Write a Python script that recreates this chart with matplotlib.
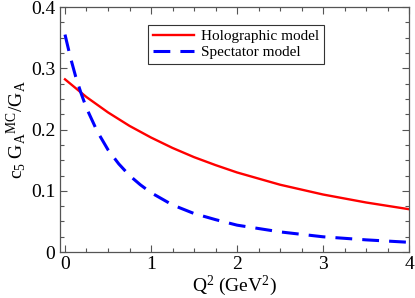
""" c5 axial form factor ratio vs Q^2
    Holographic model vs spectator model.
"""

import numpy as np
import matplotlib
matplotlib.use('Agg')
import matplotlib.pyplot as plt
from matplotlib.ticker import MultipleLocator


# -------------------------------------------------------------------------------
# 1. DATA
# -------------------------------------------------------------------------------

q2_holo = [0.0, 0.25, 0.5, 0.75, 1.0, 1.25, 1.5, 1.75, 2.0, 2.5, 3.0, 3.5, 4.0]
c5_holo = [0.282, 0.253, 0.228, 0.206, 0.187, 0.170, 0.155, 0.142, 0.130,
           0.110, 0.094, 0.081, 0.070]

q2_spec = [0.0, 0.0625, 0.125, 0.1875, 0.25, 0.375, 0.5, 0.625, 0.75, 0.875,
           1.0, 1.25, 1.5, 1.75, 2.0, 2.5, 3.0, 3.5, 4.0]
c5_spec = [0.355, 0.318, 0.286, 0.259, 0.235, 0.197, 0.167, 0.144, 0.125, 0.110,
           0.097, 0.077, 0.063, 0.053, 0.044, 0.033, 0.025, 0.020, 0.016]

labels = ['Holographic model', 'Spectator model']


# -------------------------------------------------------------------------------
# 2. PLOT
# -------------------------------------------------------------------------------

plt.rcParams['font.family'] = ['Liberation Serif', 'DejaVu Serif']
plt.rcParams['mathtext.fontset'] = 'custom'
plt.rcParams['mathtext.rm'] = 'Liberation Serif'
plt.rcParams['mathtext.it'] = 'Liberation Serif:italic'

fig = plt.figure(figsize=(4.15, 2.98), dpi=100)
ax = fig.add_axes([0.1446, 0.154, 0.841, 0.8225])

ax.plot(q2_holo, c5_holo, color='red', lw=1.7, label=labels[0])
ax.plot(q2_spec, c5_spec, color='blue', lw=2.2, dashes=(5.5, 3.3),
        dash_capstyle='butt', label=labels[1])

ax.set_xlim(-0.058, 4)
ax.set_ylim(0, 0.4)
ax.xaxis.set_major_locator(MultipleLocator(1))
ax.xaxis.set_minor_locator(MultipleLocator(0.25))
ax.yaxis.set_major_locator(MultipleLocator(0.1))
ax.yaxis.set_minor_locator(MultipleLocator(0.025))
ax.set_yticks([0, 0.1, 0.2, 0.3, 0.4])
ax.set_yticklabels(['0', '0.1', '0.2', '0.3', '0.4'])
ax.tick_params(which='both', direction='in', top=True, right=True,
               labelsize=14, color='#555555', width=0.8)
ax.tick_params(which='major', length=5)
ax.tick_params(which='minor', length=3)
ax.tick_params(axis='x', pad=2.5)
for sp in ax.spines.values():
    sp.set_color('#555555')
    sp.set_linewidth(0.9)

ax.set_xlabel(r'Q$^2$ (GeV$^2$)', fontsize=14, labelpad=1)
ax.set_ylabel(r'c$_5$ G$_\mathrm{A}$$^\mathrm{MC}$/G$_\mathrm{A}$', fontsize=14, labelpad=2)

leg = ax.legend(loc='upper left', bbox_to_anchor=(0.252, 0.927), fontsize=11,
                handlelength=2.7, handletextpad=0.5, borderpad=0.3,
                labelspacing=0.15, fancybox=False, framealpha=1,
                borderaxespad=0)
leg.get_frame().set_edgecolor('#333333')
leg.get_frame().set_linewidth(0.8)

fig.savefig('out.png', dpi=100)
